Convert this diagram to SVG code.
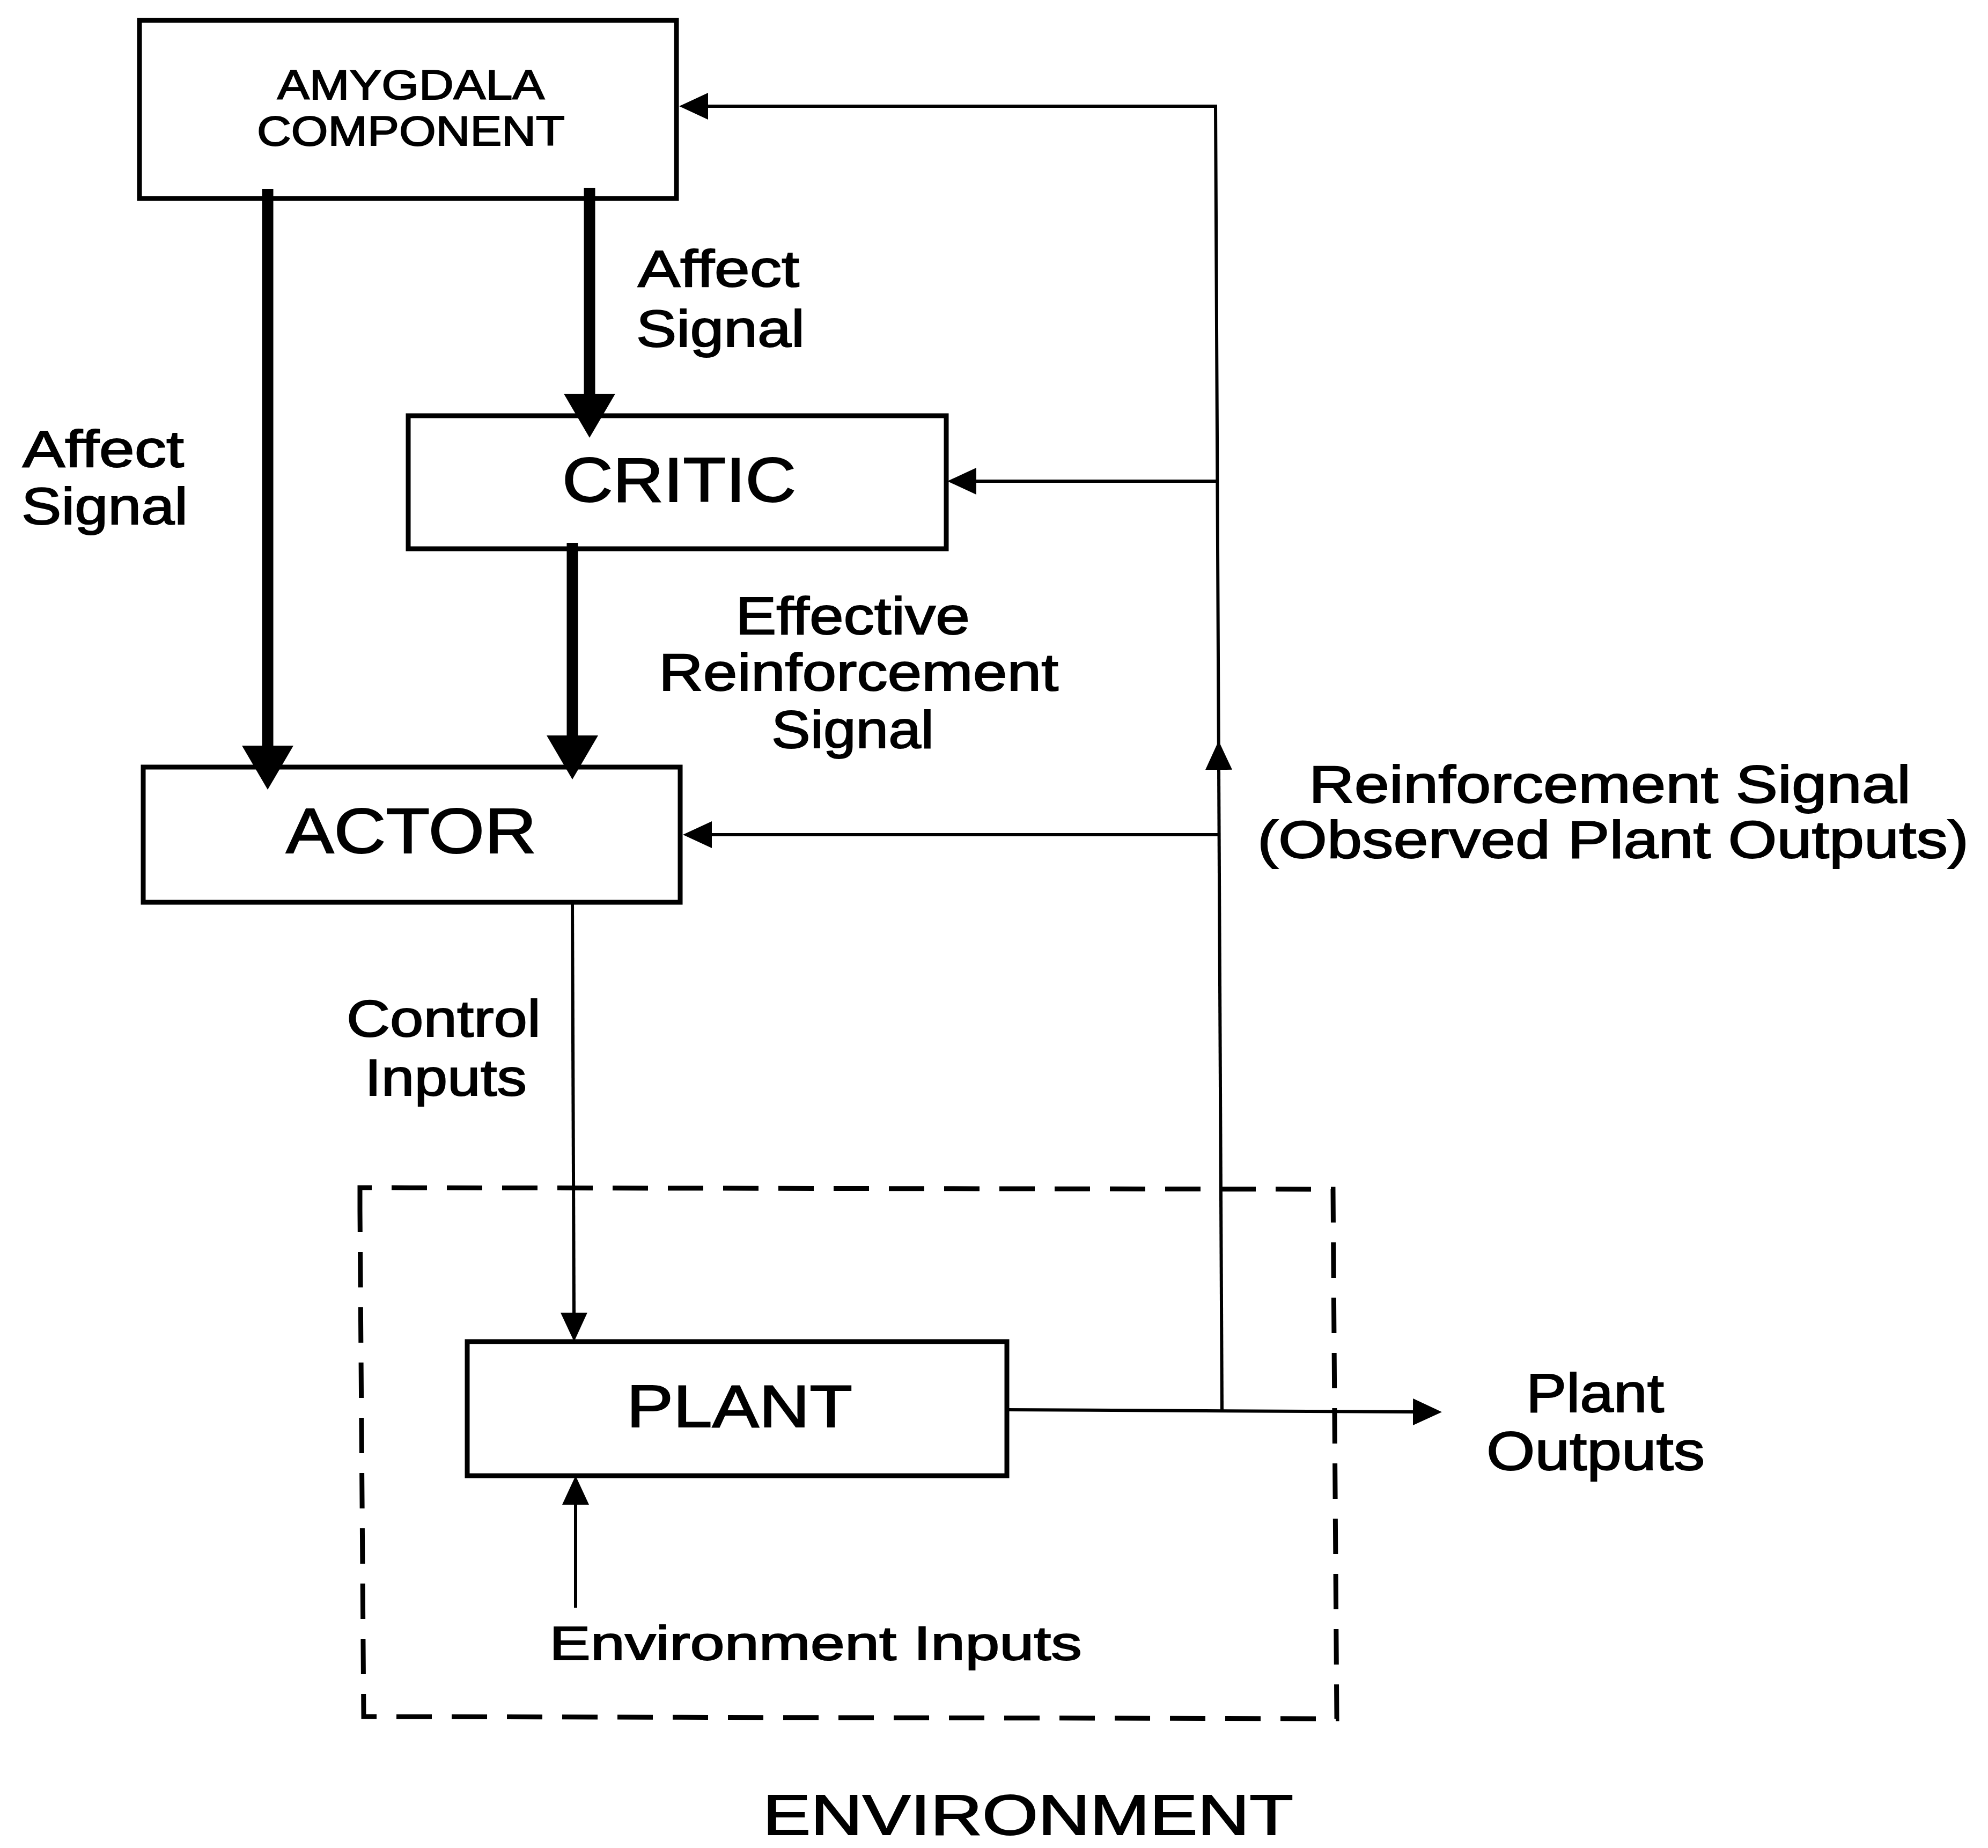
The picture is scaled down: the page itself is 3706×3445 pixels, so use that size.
<svg xmlns="http://www.w3.org/2000/svg" width="3706" height="3445" viewBox="0 0 3706 3445">
<style>
  .box { fill: #fff; stroke: #000; stroke-width: 9; }
  .thin { fill: none; stroke: #000; stroke-width: 6; }
  .thick { fill: none; stroke: #000; stroke-width: 21; }
  .dash { fill: none; stroke: #000; stroke-width: 9; stroke-dasharray: 66 37; }
  text { font-family: "Liberation Sans", Arial, Helvetica, sans-serif; fill: #000; stroke: #000; stroke-width: 2; }
</style>
<defs>
  <marker id="arrThin" markerUnits="userSpaceOnUse" viewBox="0 0 54 50" markerWidth="54" markerHeight="50" refX="2" refY="25" orient="auto">
    <path d="M0,0 L54,25 L0,50 Z" fill="#000"/>
  </marker>
  <marker id="arrThick" markerUnits="userSpaceOnUse" viewBox="0 0 82 96" markerWidth="82" markerHeight="96" refX="2" refY="48" orient="auto">
    <path d="M0,0 L82,48 L0,96 Z" fill="#000"/>
  </marker>
</defs>
<rect width="3706" height="3445" fill="#fff"/>

<g id="environment">
  <path class="dash" d="M671 2258 L671 2214 L2485 2217 L2492 3204 L678 3200 Z"/>
  <text x="1422" y="3420" font-size="106" textLength="989" lengthAdjust="spacingAndGlyphs">ENVIRONMENT</text>
</g>

<g id="amygdala">
  <rect class="box" x="260" y="38" width="1001" height="332"/>
  <text x="517" y="185" font-size="78" textLength="498" lengthAdjust="spacingAndGlyphs">AMYGDALA</text>
  <text x="479" y="271" font-size="78" textLength="574" lengthAdjust="spacingAndGlyphs">COMPONENT</text>
</g>

<g id="critic">
  <rect class="box" x="761" y="775" width="1003" height="248"/>
  <text x="1048" y="935" font-size="116" textLength="436" lengthAdjust="spacingAndGlyphs">CRITIC</text>
</g>

<g id="actor">
  <rect class="box" x="267" y="1430" width="1001" height="252"/>
  <text x="533" y="1590" font-size="118" textLength="467" lengthAdjust="spacingAndGlyphs">ACTOR</text>
</g>

<g id="plant">
  <rect class="box" x="871" y="2501" width="1006" height="250"/>
  <text x="1168" y="2660" font-size="112" textLength="421" lengthAdjust="spacingAndGlyphs">PLANT</text>
</g>

<g id="connectors">
  <path class="thick" d="M499 352 L499 1392" marker-end="url(#arrThick)"/>
  <path class="thick" d="M1099 350 L1099 736" marker-end="url(#arrThick)"/>
  <path class="thick" d="M1067 1012 L1067 1373" marker-end="url(#arrThick)"/>
  <path class="thin" d="M2278 2630 L2272 1433" marker-end="url(#arrThin)"/>
  <path class="thin" d="M2272 1433 L2266 198 L1318 198" marker-end="url(#arrThin)"/>
  <path class="thin" d="M2268 897 L1818 897" marker-end="url(#arrThin)"/>
  <path class="thin" d="M2270 1556 L1325 1556" marker-end="url(#arrThin)"/>
  <path class="thin" d="M1067 1682 L1070 2449" marker-end="url(#arrThin)"/>
  <path class="thin" d="M1877 2628 L2636 2632" marker-end="url(#arrThin)"/>
  <path class="thin" d="M1073 2997 L1073 2803" marker-end="url(#arrThin)"/>
</g>

<g id="labels">
  <text x="1189" y="534" font-size="97" textLength="301" lengthAdjust="spacingAndGlyphs">Affect</text>
  <text x="1186" y="646" font-size="97" textLength="314" lengthAdjust="spacingAndGlyphs">Signal</text>
  <text x="42" y="870" font-size="97" textLength="301" lengthAdjust="spacingAndGlyphs">Affect</text>
  <text x="40" y="977" font-size="97" textLength="310" lengthAdjust="spacingAndGlyphs">Signal</text>
  <text x="1371" y="1182" font-size="99" textLength="437" lengthAdjust="spacingAndGlyphs">Effective</text>
  <text x="1228" y="1287" font-size="99" textLength="745" lengthAdjust="spacingAndGlyphs">Reinforcement</text>
  <text x="1438" y="1394" font-size="99" textLength="303" lengthAdjust="spacingAndGlyphs">Signal</text>
  <text x="2440" y="1496" font-size="98" textLength="1122" lengthAdjust="spacingAndGlyphs">Reinforcement Signal</text>
  <text x="2344" y="1599" font-size="98" textLength="1326" lengthAdjust="spacingAndGlyphs">(Observed Plant Outputs)</text>
  <text x="646" y="1932" font-size="97" textLength="362" lengthAdjust="spacingAndGlyphs">Control</text>
  <text x="680" y="2042" font-size="97" textLength="302" lengthAdjust="spacingAndGlyphs">Inputs</text>
  <text x="2845" y="2632" font-size="102" textLength="257" lengthAdjust="spacingAndGlyphs">Plant</text>
  <text x="2771" y="2740" font-size="102" textLength="407" lengthAdjust="spacingAndGlyphs">Outputs</text>
  <text x="1024" y="3094" font-size="89" textLength="993" lengthAdjust="spacingAndGlyphs">Environment Inputs</text>
</g>
</svg>
